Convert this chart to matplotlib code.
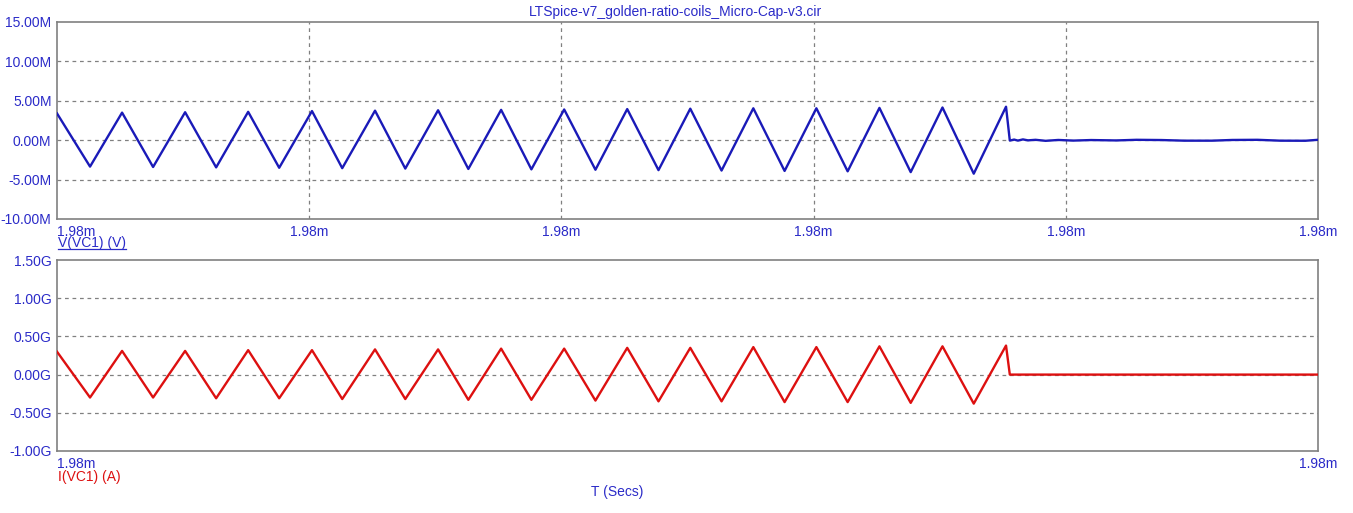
import matplotlib
matplotlib.use("Agg")
import matplotlib.pyplot as plt
from matplotlib.lines import Line2D

plt.rcParams['font.family'] = ['Liberation Sans', 'DejaVu Sans']

# time axis: ns after 1.98 ms
T0 = 1.98e-3
t_start, t_end = 0.0, 500.0
x_ticks = [0.0, 100.0, 200.0, 300.0, 400.0, 500.0]

# triangle vertices (ns) then the ring-down after the switch
vert_t = [0.0, 13.1, 25.8, 38.1, 50.8, 63.1, 75.8, 88.1, 101.1, 113.1, 126.1,
          138.1, 151.1, 163.1, 176.1, 188.1, 201.1, 213.5, 226.1, 238.5, 251.1,
          263.5, 276.1, 288.5, 301.1, 313.5, 326.1, 338.5, 351.1, 363.5, 376.3,
          377.8, 379.5, 381.0, 383.0, 385.0, 388.0, 392.0, 397.0, 403.0, 410.0,
          420.0, 428.0, 438.0, 447.0, 458.0, 466.0, 476.0, 485.0, 495.0, 500.0]

v_vc1 = [3.40, -3.35, 3.50, -3.40, 3.55, -3.45, 3.60, -3.50, 3.70, -3.55, 3.75,
         -3.60, 3.80, -3.65, 3.85, -3.70, 3.90, -3.75, 3.95, -3.80, 4.00,
         -3.85, 4.05, -3.90, 4.05, -3.95, 4.10, -4.05, 4.15, -4.25, 4.25,
         -0.05, 0.08, -0.05, 0.10, -0.02, 0.05, -0.08, 0.03, -0.05, 0.02,
         -0.03, 0.05, 0.02, -0.06, -0.06, 0.03, 0.05, -0.06, -0.07, 0.05]  # MV

i_vc1 = [0.30, -0.30, 0.31, -0.30, 0.31, -0.31, 0.32, -0.31, 0.32, -0.32, 0.33,
         -0.32, 0.33, -0.33, 0.34, -0.33, 0.34, -0.34, 0.35, -0.35, 0.35,
         -0.35, 0.36, -0.36, 0.36, -0.36, 0.37, -0.37, 0.37, -0.38, 0.38,
         0.0, 0.0, 0.0, 0.0, 0.0, 0.0, 0.0, 0.0, 0.0, 0.0,
         0.0, 0.0, 0.0, 0.0, 0.0, 0.0, 0.0, 0.0, 0.0, 0.0]  # GA

v_ticks = [-10, -5, 0, 5, 10, 15]
i_ticks = [-1.0, -0.5, 0.0, 0.5, 1.0, 1.5]

BLUE = '#1a1ab8'
TXT_BLUE = '#2b2bc8'
RED = '#dd1010'
GRAY = '#808080'

fig = plt.figure(figsize=(13.53, 5.13), dpi=100)
W, H = 1353, 513


def make_axes(x0, y_top, x1, y_bot):
    ax = fig.add_axes([x0 / W, 1 - y_bot / H, (x1 - x0) / W, (y_bot - y_top) / H])
    for s in ax.spines.values():
        s.set_color(GRAY)
        s.set_linewidth(1.2)
    ax.tick_params(length=0, colors=TXT_BLUE, labelsize=10, pad=4)
    ax.set_xlim(t_start, t_end)
    return ax


def tlabel(t):
    return f"{(T0 + t * 1e-9) * 1e3:.2f}m"


def dashed(ax, axis):
    ax.grid(False)
    if axis in ('y', 'both'):
        for y in ax.get_yticks()[1:-1]:
            ax.axhline(y, color=GRAY, lw=0.9, ls=(0, (3, 3)), zorder=1)
    if axis in ('x', 'both'):
        for x in x_ticks[1:-1]:
            ax.axvline(x, color=GRAY, lw=0.9, ls=(0, (3, 3)), zorder=1)


# top panel: voltage
ax1 = make_axes(57, 22, 1318, 219)
ax1.plot(vert_t, v_vc1, color=BLUE, lw=1.7, zorder=3)
ax1.set_ylim(-10, 15)
ax1.set_yticks(v_ticks)
ax1.set_yticklabels([f"{v:.2f}M" for v in v_ticks])
ax1.set_xticks(x_ticks)
ax1.set_xticklabels([tlabel(t) for t in x_ticks])
ax1.get_xticklabels()[0].set_ha('left')
dashed(ax1, 'both')

# bottom panel: current
ax2 = make_axes(57, 260, 1318, 451)
ax2.plot(vert_t, i_vc1, color=RED, lw=1.7, zorder=3)
ax2.set_ylim(-1.0, 1.5)
ax2.set_yticks(i_ticks)
ax2.set_yticklabels([f"{v:.2f}G" for v in i_ticks])
ax2.set_xticks([t_start, t_end])
ax2.set_xticklabels([tlabel(t_start), tlabel(t_end)])
ax2.get_xticklabels()[0].set_ha('left')
dashed(ax2, 'y')

fig.text(676 / W, 1 - 12 / H, "LTSpice-v7_golden-ratio-coils_Micro-Cap-v3.cir",
         color=TXT_BLUE, fontsize=10, ha='center', va='center')
vlab = fig.text(58 / W, 1 - 243 / H, "V(VC1) (V)", color=TXT_BLUE, fontsize=10,
                ha='left', va='center')
fig.text(58 / W, 1 - 477 / H, "I(VC1) (A)", color=RED, fontsize=10,
         ha='left', va='center')
fig.text(617 / W, 1 - 492 / H, "T (Secs)", color=TXT_BLUE, fontsize=10,
         ha='center', va='center')

# underline the voltage trace name
fig.canvas.draw()
bb = vlab.get_window_extent().transformed(fig.transFigure.inverted())
fig.add_artist(Line2D([bb.x0, bb.x1], [bb.y0 + 0.002, bb.y0 + 0.002],
                      transform=fig.transFigure, color=TXT_BLUE, lw=0.9))

fig.savefig("out.png", dpi=100)
